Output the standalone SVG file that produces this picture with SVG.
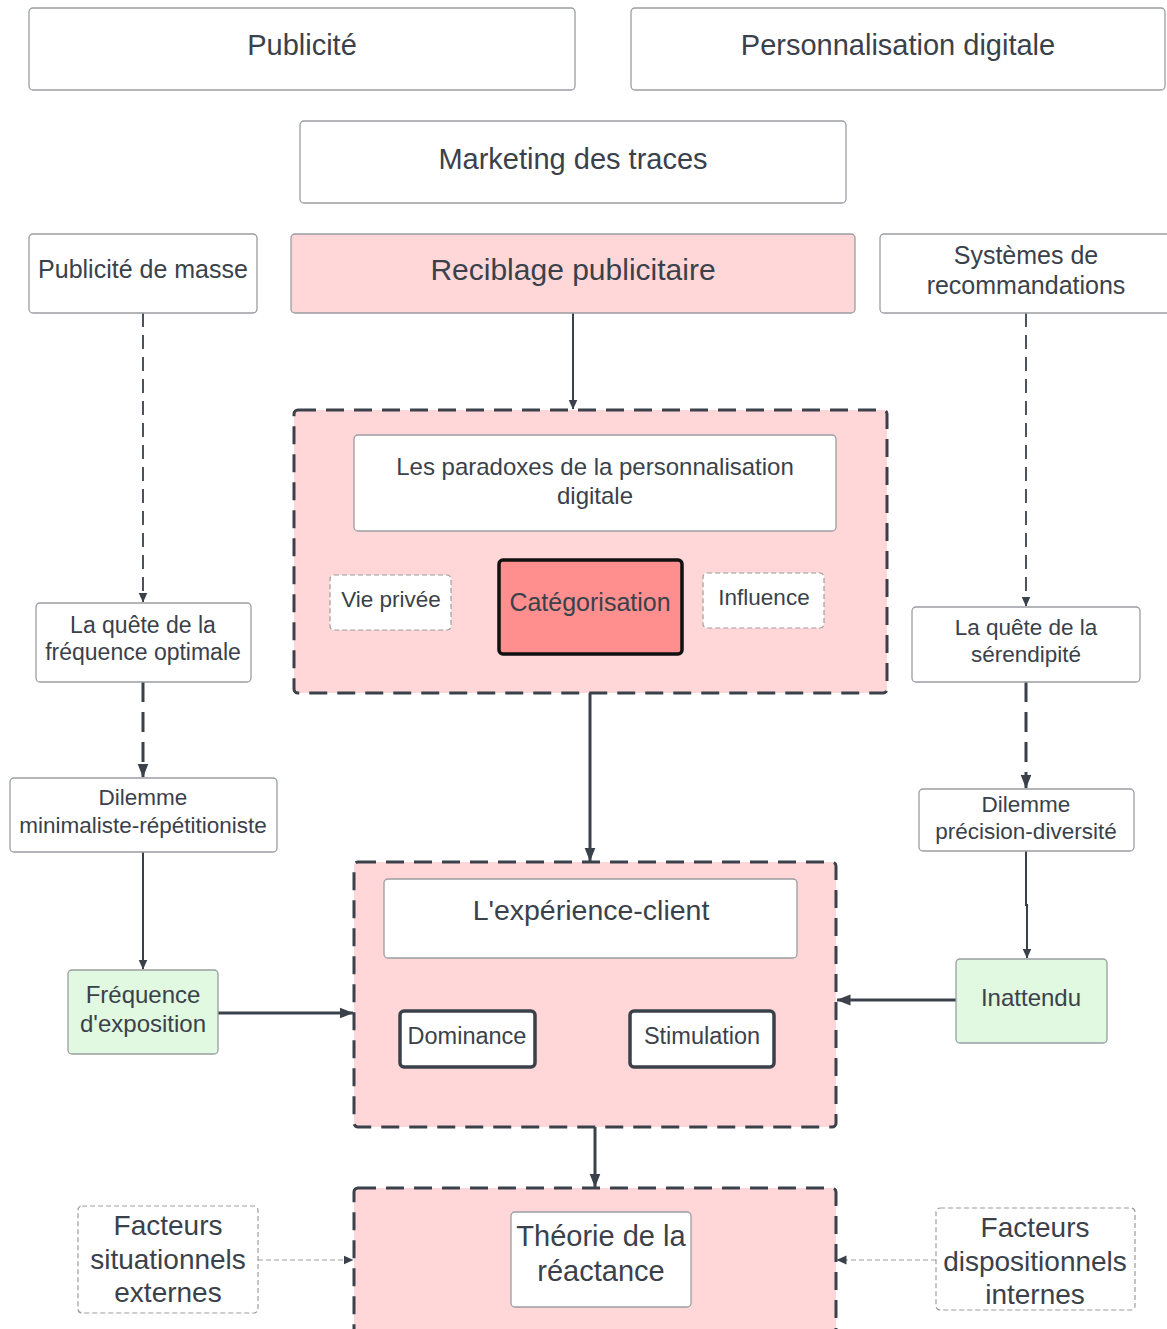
<svg xmlns="http://www.w3.org/2000/svg" width="1167" height="1329" viewBox="0 0 1167 1329">
<defs>
<marker id="ah" markerUnits="userSpaceOnUse" markerWidth="14" markerHeight="12" viewBox="0 0 14 12" refX="13.5" refY="6" orient="auto">
<path d="M0,0.5 L14,6 L0,11.5 z" fill="#3a414a"/>
</marker>
<marker id="ahs" markerUnits="userSpaceOnUse" markerWidth="10" markerHeight="10" viewBox="0 0 10 10" refX="9.5" refY="5" orient="auto">
<path d="M0,0.5 L10,5 L0,9.5 z" fill="#3a414a"/>
</marker>
</defs>
<style>
text{font-family:"Liberation Sans",Arial,sans-serif;fill:#3a414a;text-anchor:middle;dominant-baseline:central}
.box{fill:#fff;stroke:#9a9da1;stroke-width:1.3}
.pink{fill:#ffd7d8;stroke:#9a9da1;stroke-width:1.3}
.green{fill:#e1f8e1;stroke:#9a9da1;stroke-width:1.3}
.cont{fill:#ffd7d8;stroke:#3a414a;stroke-width:3;stroke-dasharray:18 10}
.dbox{fill:#fff;stroke:#9a9da1;stroke-width:1.2;stroke-dasharray:5 3}
.bold{fill:#fff;stroke:#3a414a;stroke-width:3.5}
.c1{fill:none;stroke:#3a414a;stroke-width:2}
.c3{fill:none;stroke:#3a414a;stroke-width:3}
.cd1{fill:none;stroke:#3a414a;stroke-width:1.8;stroke-dasharray:14 8}
.cd3{fill:none;stroke:#3a414a;stroke-width:3;stroke-dasharray:20 10}
.cg{fill:none;stroke:#9a9da1;stroke-width:1.2;stroke-dasharray:5 3}
</style>
<rect width="1167" height="1329" fill="#fff"/>

<g id="connectors">
<path class="c1" d="M573,313 V409" marker-end="url(#ahs)"/>
<path class="cd1" d="M143,313 V602" marker-end="url(#ahs)"/>
<path class="cd3" d="M143,682 V777" marker-end="url(#ah)"/>
<path class="c1" d="M143,852 V969" marker-end="url(#ahs)"/>
<path class="c3" d="M218,1013 H353" marker-end="url(#ah)"/>
<path class="cd1" d="M1026,313 V606" marker-end="url(#ahs)"/>
<path class="cd3" d="M1026,682 V788" marker-end="url(#ah)"/>
<path class="c1" d="M1026,851 V905 H1027 V958" marker-end="url(#ahs)"/>
<path class="c3" d="M956,1000 H837" marker-end="url(#ah)"/>
<path class="c3" d="M590,693 V861" marker-end="url(#ah)"/>
<path class="c3" d="M595,1127 V1187" marker-end="url(#ah)"/>
<path class="cg" d="M258,1260 H353" marker-end="url(#ahs)"/>
<path class="cg" d="M936,1260 H837" marker-end="url(#ahs)"/>
</g>

<g id="publicite"><rect class="box" x="29" y="8" width="546" height="82" rx="4"/><text x="302" y="45" font-size="29">Publicité</text></g>
<g id="personnalisation"><rect class="box" x="631" y="8" width="534" height="82" rx="4"/><text x="898" y="45" font-size="29">Personnalisation digitale</text></g>
<g id="marketing"><rect class="box" x="300" y="121" width="546" height="82" rx="4"/><text x="573" y="159" font-size="29">Marketing des traces</text></g>
<g id="pubmasse"><rect class="box" x="29" y="234" width="228" height="79" rx="4"/><text x="143" y="269" font-size="25">Publicité de masse</text></g>
<g id="reciblage"><rect class="pink" x="291" y="234" width="564" height="79" rx="4"/><text x="573" y="269" font-size="30">Reciblage publicitaire</text></g>
<g id="systemes"><rect class="box" x="880" y="234" width="292" height="79" rx="4"/><text x="1026" y="255" font-size="25">Systèmes de</text><text x="1026" y="285" font-size="25">recommandations</text></g>

<g id="paradoxes-group">
<rect class="cont" x="294" y="410" width="593" height="283" rx="4"/>
<g id="paradoxes"><rect class="box" x="354" y="435" width="482" height="96" rx="4"/><text x="595" y="466" font-size="24">Les paradoxes de la personnalisation</text><text x="595" y="495" font-size="24">digitale</text></g>
<g id="vieprivee"><rect class="dbox" x="330" y="575" width="121" height="55" rx="4"/><text x="391" y="599" font-size="22.5">Vie privée</text></g>
<g id="categorisation"><rect x="499" y="560" width="183" height="94" rx="4" fill="#ff8f8f" stroke="#111" stroke-width="3.5"/><text x="590" y="602" font-size="25">Catégorisation</text></g>
<g id="influence"><rect class="dbox" x="703" y="573" width="121" height="55" rx="4"/><text x="764" y="597" font-size="22.5">Influence</text></g>
</g>

<g id="quete-frequence"><rect class="box" x="36" y="603" width="215" height="79" rx="4"/><text x="143" y="625" font-size="23">La quête de la</text><text x="143" y="652" font-size="23">fréquence optimale</text></g>
<g id="dilemme-min"><rect class="box" x="10" y="778" width="267" height="74" rx="4"/><text x="143" y="797" font-size="22.5">Dilemme</text><text x="143" y="825" font-size="22.5">minimaliste-répétitioniste</text></g>
<g id="frequence-expo"><rect class="green" x="68" y="970" width="150" height="84" rx="4"/><text x="143" y="994" font-size="24">Fréquence</text><text x="143" y="1023" font-size="24">d'exposition</text></g>

<g id="quete-serendipite"><rect class="box" x="912" y="607" width="228" height="75" rx="4"/><text x="1026" y="627" font-size="22.5">La quête de la</text><text x="1026" y="654" font-size="22.5">sérendipité</text></g>
<g id="dilemme-prec"><rect class="box" x="919" y="789" width="215" height="62" rx="4"/><text x="1026" y="804" font-size="22.5">Dilemme</text><text x="1026" y="831" font-size="22.5">précision-diversité</text></g>
<g id="inattendu"><rect class="green" x="956" y="959" width="151" height="84" rx="4"/><text x="1031" y="997" font-size="24">Inattendu</text></g>

<g id="experience-group">
<rect class="cont" x="354" y="862" width="482" height="265" rx="4"/>
<g id="experience"><rect class="box" x="384" y="879" width="413" height="79" rx="4"/><text x="591" y="910" font-size="28.5">L'expérience-client</text></g>
<g id="dominance"><rect class="bold" x="400" y="1011" width="135" height="56" rx="4"/><text x="467" y="1036" font-size="23.5">Dominance</text></g>
<g id="stimulation"><rect class="bold" x="630" y="1011" width="144" height="56" rx="4"/><text x="702" y="1036" font-size="23.5">Stimulation</text></g>
</g>

<g id="reactance-group">
<rect class="cont" x="354" y="1188" width="482" height="160" rx="4"/>
<g id="reactance"><rect class="box" x="511" y="1212" width="180" height="95" rx="4"/><text x="601" y="1236" font-size="29">Théorie de la</text><text x="601" y="1271" font-size="29">réactance</text></g>
</g>

<g id="facteurs-sit"><rect class="dbox" x="78" y="1206" width="180" height="107" rx="4"/><text x="168" y="1225" font-size="28">Facteurs</text><text x="168" y="1259" font-size="28">situationnels</text><text x="168" y="1292" font-size="28">externes</text></g>
<g id="facteurs-disp"><rect class="dbox" x="936" y="1208" width="199" height="102" rx="4"/><text x="1035" y="1227" font-size="28">Facteurs</text><text x="1035" y="1261" font-size="28">dispositionnels</text><text x="1035" y="1294" font-size="28">internes</text></g>
</svg>
